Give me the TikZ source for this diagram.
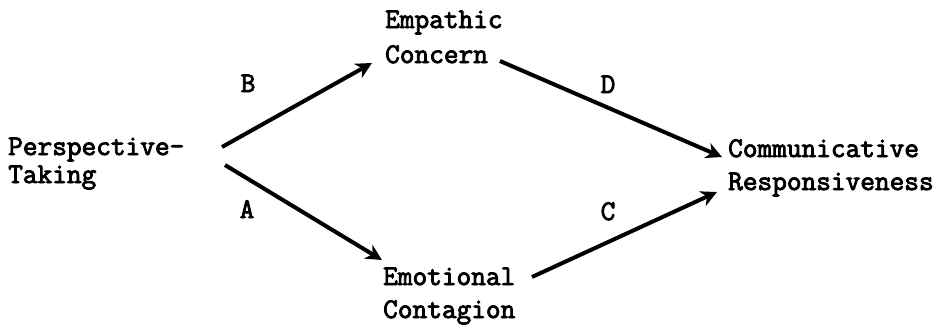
\documentclass[tikz,border=0pt]{standalone}
\usepackage{fontspec}
\newfontfamily\tw[FakeBold=3]{Latin Modern Mono}
\usetikzlibrary{calc,arrows.meta}
\tikzset{
  lbl/.style={font=\tw\fontsize{28.5}{28}\selectfont, inner sep=0pt, anchor=base west, align=left},
  letter/.style={font=\tw\fontsize{28.5}{28}\selectfont, inner sep=0pt, anchor=base},
  arr/.style={line width=4pt, -{Stealth[length=16pt,width=16pt,inset=5pt]}}
}
\begin{document}
\begin{tikzpicture}[x=1pt,y=1pt]
\useasboundingbox (0,0) rectangle (948,325);
\node[lbl] (pt) at (8,142) {Perspective-\\Taking};
\node[lbl] (ec) at (385,262) {Empathic\\[7pt]Concern};
\node[lbl] (eg) at (383,7) {Emotional\\[5pt]Contagion};
\node[lbl] (cr) at (728,135) {Communicative\\[5pt]Responsiveness};
\node[letter] (lb) at (248,233) {B};
\node[letter] (la) at (247,107) {A};
\node[letter] (ld) at (608,232) {D};
\node[letter] (lc) at (608,105) {C};
\draw[arr] ($(pt.base west)+(214,36)$) -- ($(ec.base west)+(-13,0)$);
\draw[arr] ($(pt.base west)+(217,18)$) -- ($(eg.base west)+(-1,58)$);
\draw[arr] ($(ec.base west)+(115,2)$) -- ($(cr.base west)+(-6,33)$);
\draw[arr] ($(eg.base west)+(149,41)$) -- ($(cr.base west)+(-11,-2)$);
\end{tikzpicture}
\end{document}
